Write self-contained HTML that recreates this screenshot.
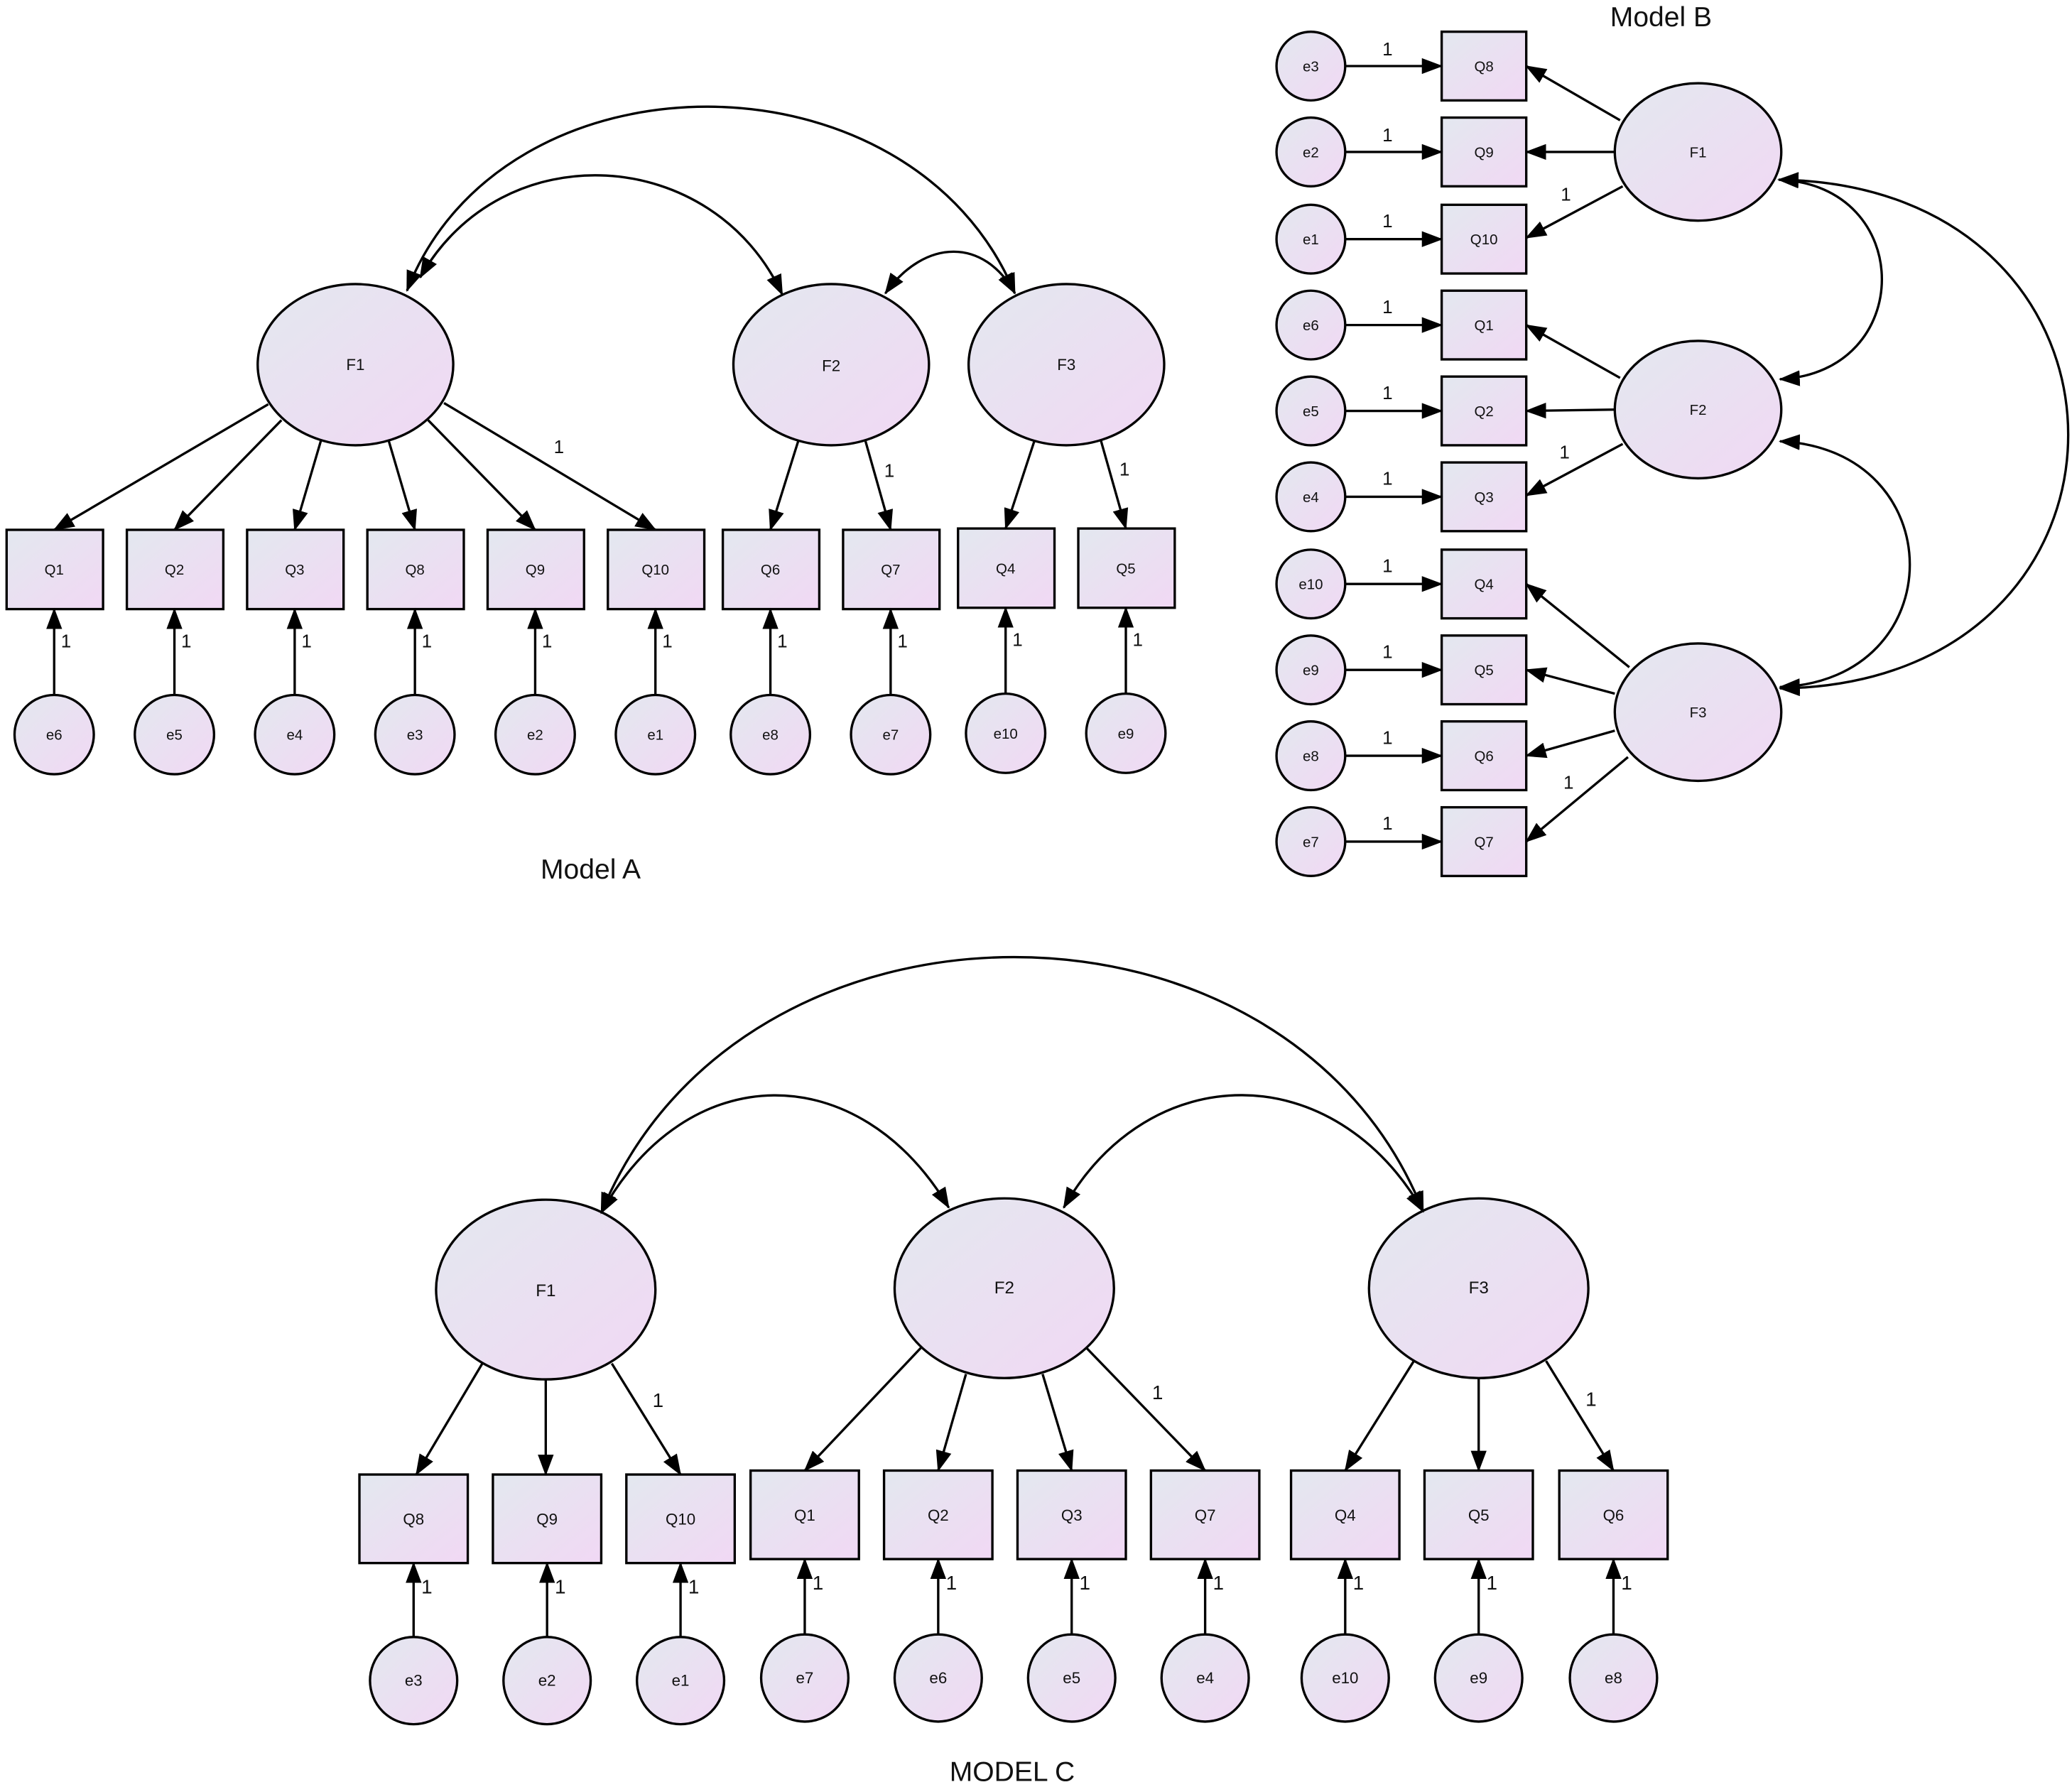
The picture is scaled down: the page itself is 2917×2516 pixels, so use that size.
<!DOCTYPE html>
<html><head><meta charset="utf-8"><style>
html,body{margin:0;padding:0;background:#fff;}
svg{display:block;}
text{font-family:"Liberation Sans",sans-serif;fill:#111;}
</style></head><body>
<svg width="2917" height="2516" viewBox="0 0 1568 1352.5" preserveAspectRatio="none" xmlns="http://www.w3.org/2000/svg">
<defs>
<linearGradient id="g" x1="0" y1="0" x2="1" y2="1">
<stop offset="0" stop-color="#e3e8ef"/><stop offset="1" stop-color="#f1d8f4"/>
</linearGradient>
<marker id="a" markerUnits="userSpaceOnUse" markerWidth="16" markerHeight="12" refX="15" refY="6" orient="auto-start-reverse">
<path d="M0,0 L16,6 L0,12 Z" fill="#000"/>
</marker>
</defs>
<g stroke="#000" stroke-width="1.8" fill="url(#g)">
<ellipse cx="269" cy="276" rx="74" ry="61"/>
<ellipse cx="629" cy="276" rx="74" ry="61"/>
<ellipse cx="807" cy="276" rx="74" ry="61"/>
<rect x="5" y="401" width="73" height="60"/><rect x="96" y="401" width="73" height="60"/>
<rect x="187" y="401" width="73" height="60"/><rect x="278" y="401" width="73" height="60"/>
<rect x="369" y="401" width="73" height="60"/><rect x="460" y="401" width="73" height="60"/>
<rect x="547" y="401" width="73" height="60"/><rect x="638" y="401" width="73" height="60"/>
<rect x="725" y="400" width="73" height="60"/><rect x="816" y="400" width="73" height="60"/>
<circle cx="41" cy="556" r="30"/><circle cx="132" cy="556" r="30"/><circle cx="223" cy="556" r="30"/>
<circle cx="314" cy="556" r="30"/><circle cx="405" cy="556" r="30"/><circle cx="496" cy="556" r="30"/>
<circle cx="583" cy="556" r="30"/><circle cx="674" cy="556" r="30"/><circle cx="761" cy="555" r="30"/><circle cx="852" cy="555" r="30"/>
<ellipse cx="1285" cy="115" rx="63" ry="52"/>
<ellipse cx="1285" cy="310" rx="63" ry="52"/>
<ellipse cx="1285" cy="539" rx="63" ry="52"/>
<rect x="1091" y="24" width="64" height="52"/><rect x="1091" y="89" width="64" height="52"/>
<rect x="1091" y="155" width="64" height="52"/><rect x="1091" y="220" width="64" height="52"/>
<rect x="1091" y="285" width="64" height="52"/><rect x="1091" y="350" width="64" height="52"/>
<rect x="1091" y="416" width="64" height="52"/><rect x="1091" y="481" width="64" height="52"/>
<rect x="1091" y="546" width="64" height="52"/><rect x="1091" y="611" width="64" height="52"/>
<circle cx="992" cy="50" r="26"/><circle cx="992" cy="115" r="26"/><circle cx="992" cy="181" r="26"/>
<circle cx="992" cy="246" r="26"/><circle cx="992" cy="311" r="26"/><circle cx="992" cy="376" r="26"/>
<circle cx="992" cy="442" r="26"/><circle cx="992" cy="507" r="26"/><circle cx="992" cy="572" r="26"/><circle cx="992" cy="637" r="26"/>
<ellipse cx="413" cy="976" rx="83" ry="68"/>
<ellipse cx="760" cy="975" rx="83" ry="68"/>
<ellipse cx="1119" cy="975" rx="83" ry="68"/>
<rect x="272" y="1116" width="82" height="67"/><rect x="373" y="1116" width="82" height="67"/><rect x="474" y="1116" width="82" height="67"/>
<rect x="568" y="1113" width="82" height="67"/><rect x="669" y="1113" width="82" height="67"/><rect x="770" y="1113" width="82" height="67"/>
<rect x="871" y="1113" width="82" height="67"/><rect x="977" y="1113" width="82" height="67"/><rect x="1078" y="1113" width="82" height="67"/><rect x="1180" y="1113" width="82" height="67"/>
<circle cx="313" cy="1272" r="33"/><circle cx="414" cy="1272" r="33"/><circle cx="515" cy="1272" r="33"/>
<circle cx="609" cy="1270" r="33"/><circle cx="710" cy="1270" r="33"/><circle cx="811" cy="1270" r="33"/>
<circle cx="912" cy="1270" r="33"/><circle cx="1018" cy="1270" r="33"/><circle cx="1119" cy="1270" r="33"/><circle cx="1221" cy="1270" r="33"/>
</g>
<g stroke="#000" stroke-width="1.8" fill="none" marker-end="url(#a)">
<path d="M203,306 L41,401"/><path d="M213,318 L132,401"/><path d="M243,333 L223,401"/>
<path d="M294,333 L314,401"/><path d="M324,318 L405,401"/><path d="M336,305 L496,401"/>
<path d="M604,334 L583,401"/><path d="M655,334 L674,401"/>
<path d="M783,333 L761,400"/><path d="M833,333 L852,400"/>
<path d="M41,526 L41,461"/><path d="M132,526 L132,461"/><path d="M223,526 L223,461"/><path d="M314,526 L314,461"/>
<path d="M405,526 L405,461"/><path d="M496,526 L496,461"/><path d="M583,526 L583,461"/><path d="M674,526 L674,461"/>
<path d="M761,525 L761,460"/><path d="M852,525 L852,460"/>
<path d="M308,220 C380,34 690,34 768,222" marker-start="url(#a)"/>
<path d="M318,210 C380,100 540,110 592,223" marker-start="url(#a)"/>
<path d="M670,222 C700,180 745,180 768,222" marker-start="url(#a)"/>
<path d="M1018,50 L1091,50"/><path d="M1018,115 L1091,115"/><path d="M1018,181 L1091,181"/><path d="M1018,246 L1091,246"/>
<path d="M1018,311 L1091,311"/><path d="M1018,376 L1091,376"/><path d="M1018,442 L1091,442"/><path d="M1018,507 L1091,507"/>
<path d="M1018,572 L1091,572"/><path d="M1018,637 L1091,637"/>
<path d="M1226,91 L1155,50"/><path d="M1222,115 L1155,115"/><path d="M1228,141 L1155,180"/>
<path d="M1226,286 L1155,246"/><path d="M1222,310 L1155,311"/><path d="M1228,336 L1155,375"/>
<path d="M1233,505 L1155,442"/><path d="M1222,525 L1155,507"/><path d="M1222,553 L1155,572"/><path d="M1232,573 L1155,637"/>
<path d="M1346,136 C1450,140 1450,282 1347,287" marker-start="url(#a)"/>
<path d="M1347,334 C1478,340 1478,515 1347,520" marker-start="url(#a)"/>
<path d="M1346,136 C1638,140 1638,518 1347,521" marker-start="url(#a)"/>
<path d="M365,1032 L315,1116"/><path d="M413,1044 L413,1116"/><path d="M463,1032 L515,1116"/>
<path d="M697,1020 L609,1113"/><path d="M731,1040 L710,1113"/><path d="M789,1040 L811,1113"/><path d="M822,1020 L912,1113"/>
<path d="M1070,1030 L1018,1113"/><path d="M1119,1043 L1119,1113"/><path d="M1170,1030 L1221,1113"/>
<path d="M313,1239 L313,1183"/><path d="M414,1239 L414,1183"/><path d="M515,1239 L515,1183"/>
<path d="M609,1237 L609,1180"/><path d="M710,1237 L710,1180"/><path d="M811,1237 L811,1180"/><path d="M912,1237 L912,1180"/>
<path d="M1018,1237 L1018,1180"/><path d="M1119,1237 L1119,1180"/><path d="M1221,1237 L1221,1180"/>
<path d="M455,918 C560,660 975,660 1077,917" marker-start="url(#a)"/>
<path d="M455,918 C520,800 650,800 718,914" marker-start="url(#a)"/>
<path d="M805,914 C870,800 1010,800 1077,917" marker-start="url(#a)"/>
</g>
<g font-size="12" text-anchor="middle">
<text x="269" y="280">F1</text><text x="629" y="281">F2</text><text x="807" y="280">F3</text>
<g font-size="11">
<text x="41" y="435">Q1</text><text x="132" y="435">Q2</text><text x="223" y="435">Q3</text><text x="314" y="435">Q8</text>
<text x="405" y="435">Q9</text><text x="496" y="435">Q10</text><text x="583" y="435">Q6</text><text x="674" y="435">Q7</text>
<text x="761" y="434">Q4</text><text x="852" y="434">Q5</text>
<text x="41" y="560">e6</text><text x="132" y="560">e5</text><text x="223" y="560">e4</text><text x="314" y="560">e3</text>
<text x="405" y="560">e2</text><text x="496" y="560">e1</text><text x="583" y="560">e8</text><text x="674" y="560">e7</text>
<text x="761" y="559">e10</text><text x="852" y="559">e9</text>
</g>
<g font-size="14">
<text x="50" y="490">1</text><text x="141" y="490">1</text><text x="232" y="490">1</text><text x="323" y="490">1</text>
<text x="414" y="490">1</text><text x="505" y="490">1</text><text x="592" y="490">1</text><text x="683" y="490">1</text>
<text x="770" y="489">1</text><text x="861" y="489">1</text>
<text x="423" y="343">1</text><text x="673" y="361">1</text><text x="851" y="360">1</text>
</g>
<text x="447" y="665" font-size="21">Model A</text>
<text x="1257" y="20" font-size="21">Model B</text>
<g font-size="11">
<text x="1285" y="119">F1</text><text x="1285" y="314">F2</text><text x="1285" y="543">F3</text>
<text x="1123" y="54">Q8</text><text x="1123" y="119">Q9</text><text x="1123" y="185">Q10</text><text x="1123" y="250">Q1</text>
<text x="1123" y="315">Q2</text><text x="1123" y="380">Q3</text><text x="1123" y="446">Q4</text><text x="1123" y="511">Q5</text>
<text x="1123" y="576">Q6</text><text x="1123" y="641">Q7</text>
<text x="992" y="54">e3</text><text x="992" y="119">e2</text><text x="992" y="185">e1</text><text x="992" y="250">e6</text>
<text x="992" y="315">e5</text><text x="992" y="380">e4</text><text x="992" y="446">e10</text><text x="992" y="511">e9</text>
<text x="992" y="576">e8</text><text x="992" y="641">e7</text>
</g>
<g font-size="14">
<text x="1050" y="42">1</text><text x="1050" y="107">1</text><text x="1050" y="172">1</text><text x="1050" y="237">1</text>
<text x="1050" y="302">1</text><text x="1050" y="367">1</text><text x="1050" y="433">1</text><text x="1050" y="498">1</text>
<text x="1050" y="563">1</text><text x="1050" y="628">1</text>
<text x="1185" y="152">1</text><text x="1184" y="347">1</text><text x="1187" y="597">1</text>
</g>
<text x="413" y="981" font-size="13">F1</text><text x="760" y="979" font-size="13">F2</text><text x="1119" y="979" font-size="13">F3</text>
<g font-size="12">
<text x="313" y="1154">Q8</text><text x="414" y="1154">Q9</text><text x="515" y="1154">Q10</text>
<text x="609" y="1151">Q1</text><text x="710" y="1151">Q2</text><text x="811" y="1151">Q3</text><text x="912" y="1151">Q7</text>
<text x="1018" y="1151">Q4</text><text x="1119" y="1151">Q5</text><text x="1221" y="1151">Q6</text>
<text x="313" y="1276">e3</text><text x="414" y="1276">e2</text><text x="515" y="1276">e1</text>
<text x="609" y="1274">e7</text><text x="710" y="1274">e6</text><text x="811" y="1274">e5</text><text x="912" y="1274">e4</text>
<text x="1018" y="1274">e10</text><text x="1119" y="1274">e9</text><text x="1221" y="1274">e8</text>
</g>
<g font-size="15">
<text x="323" y="1206">1</text><text x="424" y="1206">1</text><text x="525" y="1206">1</text>
<text x="619" y="1203">1</text><text x="720" y="1203">1</text><text x="821" y="1203">1</text><text x="922" y="1203">1</text>
<text x="1028" y="1203">1</text><text x="1129" y="1203">1</text><text x="1231" y="1203">1</text>
<text x="498" y="1065">1</text><text x="876" y="1059">1</text><text x="1204" y="1064">1</text>
</g>
<text x="766" y="1348" font-size="21">MODEL C</text>
</g>
</svg>
</body></html>
